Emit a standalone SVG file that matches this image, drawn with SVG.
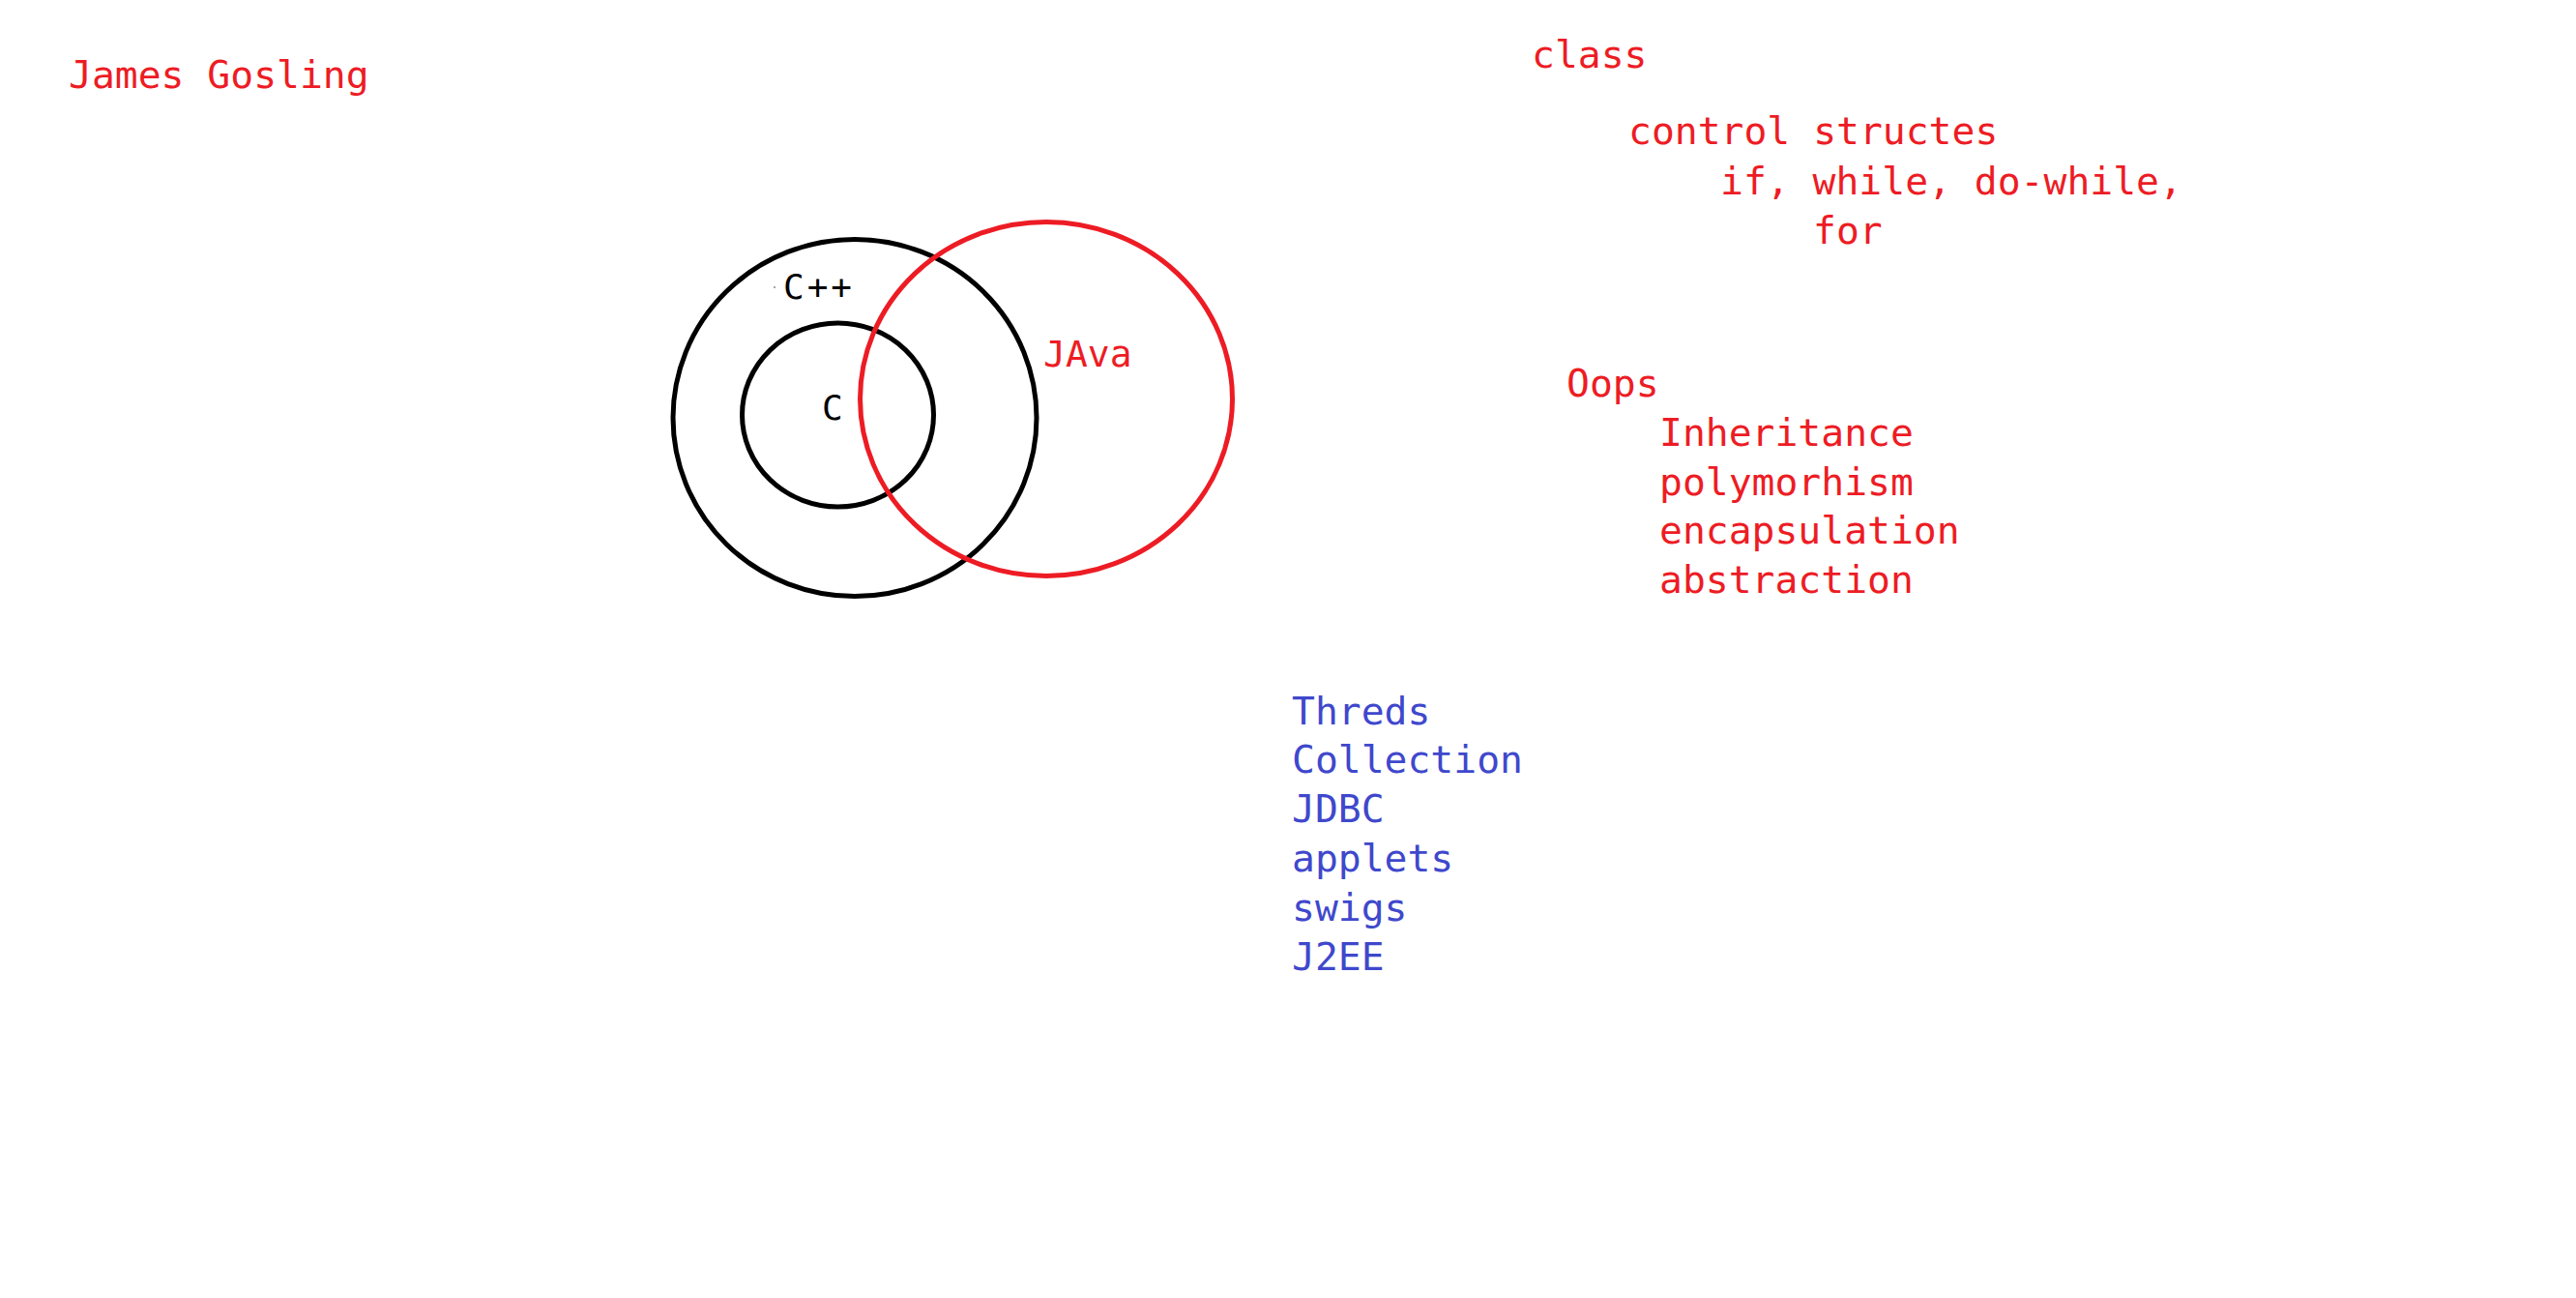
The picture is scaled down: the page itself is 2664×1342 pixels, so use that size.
<svg xmlns="http://www.w3.org/2000/svg" width="2664" height="1342" viewBox="0 0 2664 1342">
<style>
text{font-family:"DejaVu Sans Mono","Liberation Mono",monospace;font-size:39.7px}
.r{fill:#ED1C24}
.b{fill:#3F48CC}
.k{fill:#000}
.ring{fill:none;stroke-width:5}
</style>
<rect width="2664" height="1342" fill="#fff"/>
<g id="author"><text class="r" x="71" y="91">James Gosling</text></g>
<g id="cpp">
<ellipse class="ring" cx="884" cy="432" rx="188" ry="184.5" stroke="#000"/>
<text class="k" x="810" y="309" style="font-size:36px" letter-spacing="3">C++</text>
<circle cx="801" cy="297" r="1" fill="#888"/>
</g>
<g id="c">
<ellipse class="ring" cx="866.5" cy="429" rx="99" ry="95" stroke="#000"/>
<text class="k" x="850" y="434" style="font-size:36px">C</text>
</g>
<g id="java">
<ellipse class="ring" cx="1082" cy="412.5" rx="192.5" ry="183" stroke="#ED1C24"/>
<text class="r" x="1079" y="379" style="font-size:38px">JAva</text>
</g>
<g id="basics">
<text class="r" x="1584" y="70">class</text>
<text class="r" x="1684" y="149">control structes</text>
<text class="r" x="1779" y="201">if, while, do-while,</text>
<text class="r" x="1875" y="252">for</text>
</g>
<g id="oops">
<text class="r" x="1620" y="410">Oops</text>
<text class="r" x="1716" y="461">Inheritance</text>
<text class="r" x="1716" y="512">polymorhism</text>
<text class="r" x="1716" y="562">encapsulation</text>
<text class="r" x="1716" y="613">abstraction</text>
</g>
<g id="advanced">
<text class="b" x="1336" y="749">Threds</text>
<text class="b" x="1336" y="799">Collection</text>
<text class="b" x="1336" y="850">JDBC</text>
<text class="b" x="1336" y="901">applets</text>
<text class="b" x="1336" y="952">swigs</text>
<text class="b" x="1336" y="1003">J2EE</text>
</g>
<g id="connectors"></g>
</svg>
